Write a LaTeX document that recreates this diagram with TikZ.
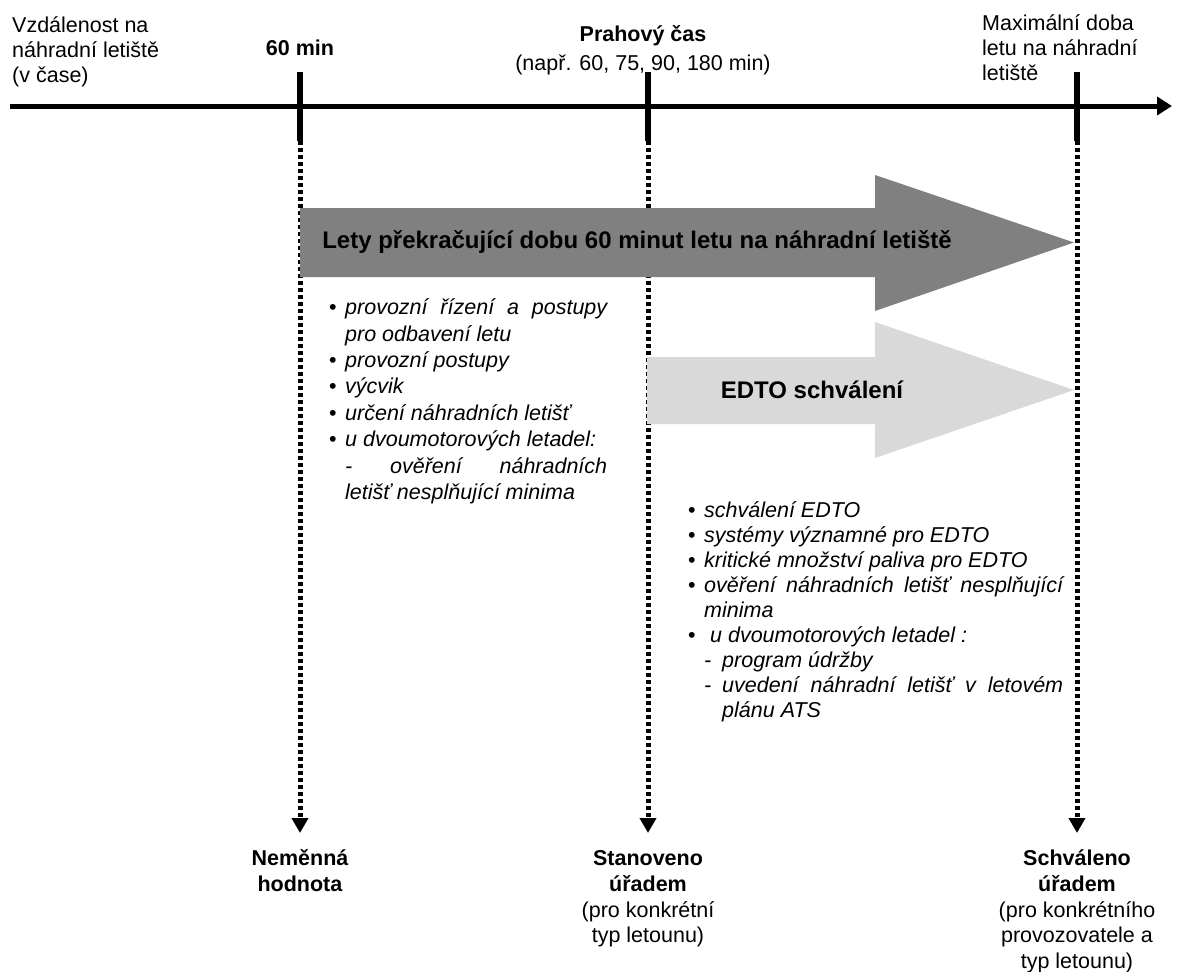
\documentclass[tikz,border=0pt]{standalone}
\usepackage{fontspec}
\setmainfont{Liberation Sans}
\usetikzlibrary{arrows.meta, positioning}

% bullet point and dash point for the lists
\newcommand{\bitem}[1]{\par\noindent\hangindent=16pt\hangafter=1\makebox[16pt][l]{\upshape\textbullet}#1}
\newcommand{\ditem}[1]{\par\noindent\hangindent=34pt\hangafter=1\hspace*{16pt}\makebox[18pt][l]{-}#1}

\begin{document}
\begin{tikzpicture}[x=1pt, y=-1pt]
	% Setup the styles
	\tikzset{toplabel/.style={font=\fontsize{21.5}{25}\selectfont, inner sep=0pt, align=center},
		endlabel/.style={font=\fontsize{21.5}{25.7}\selectfont, inner sep=0pt, align=center},
		arrowtext/.style={font=\fontsize{24}{28}\selectfont\bfseries, inner sep=0pt},
		itemlist/.style={font=\fontsize{21.5}{26.4}\selectfont\itshape, inner sep=0pt, align=justify, anchor=north west},
		timeaxis/.style={line width=5pt, -{Triangle[width=18pt, length=15pt]}},
		tickline/.style={line width=5.5pt},
		guide/.style={line width=5pt, dash pattern=on 4pt off 3pt, -{Triangle[width=16pt, length=15pt]}},
		darkarrow/.style={fill=black!50},
		lightarrow/.style={fill=black!15}}
	
	\useasboundingbox (0,0) rectangle (1179,972);
	
	% time axis and its marks
	\coordinate (start) at (10,106);
	\coordinate (end)   at (1172,106);
	\coordinate (atop) at (300,72);
	\coordinate (a)    at (300,141);
	\coordinate (aend) at (300,833);
	\coordinate (btop) at (648,72);
	\coordinate (b)    at (648,141);
	\coordinate (bend) at (648,833);
	\coordinate (ctop) at (1077,72);
	\coordinate (c)    at (1077,141);
	\coordinate (cend) at (1077,833);
	
	\draw[timeaxis] (start) -- (end);
	\draw[tickline] (atop) -- (a) (btop) -- (b) (ctop) -- (c);
	\draw[guide] (a) -- (aend);
	\draw[guide] (b) -- (bend);
	\draw[guide] (c) -- (cend);
	
	% block arrows
	\fill[darkarrow] (300,208) -- (875,208) -- (875,175) -- (1074,242.5)
		-- (875,311) -- (875,277) -- (300,277) -- cycle;
	\fill[lightarrow] (647,357) -- (875,357) -- (875,322) -- (1074,390)
		-- (875,458) -- (875,424) -- (647,424) -- cycle;
	\node[arrowtext] (lety) at (637,242) {Lety překračující dobu 60 minut letu na náhradní letiště};
	\node[arrowtext] (edto) at (812,390) {EDTO schválení};
	
	% labels above the axis
	\node[toplabel, align=left, anchor=north west] (dist) at (12,16)
		{Vzdálenost na\\náhradní letiště\\(v čase)};
	\node[toplabel, font=\fontsize{21.5}{25}\selectfont\bfseries, above=16.5pt of atop] (min60) {60 min};
	\node[toplabel, anchor=base] (prahnote) at (643,70) {(např. 60, 75, 90, 180 min)};
	\node[toplabel, font=\fontsize{21.5}{25}\selectfont\bfseries, above=8pt of prahnote] (prah) {Prahový čas};
	\node[toplabel, align=left, anchor=north west] (maxdoba) at (982,14)
		{Maximální doba\\letu na náhradní\\letiště};
	
	% lists
	\node[itemlist, text width=278pt] (list60) at (329,288) {%
		\bitem{provozní řízení a postupy\linebreak pro odbavení letu}
		\bitem{provozní postupy}
		\bitem{výcvik}
		\bitem{určení náhradních letišť}
		\bitem{u dvoumotorových letadel:\newline
			- ověření náhradních\linebreak letišť nesplňující minima}\par};
	\node[itemlist, font=\fontsize{21.5}{25}\selectfont\itshape, text width=375pt] (listedto) at (688,492) {%
		\bitem{schválení EDTO}
		\bitem{systémy významné pro EDTO}
		\bitem{kritické množství paliva pro EDTO}
		\bitem{ověření náhradních letišť nesplňující\linebreak minima}
		\bitem{\ u dvoumotorových letadel :}
		\ditem{program údržby}
		\ditem{uvedení náhradní letišť v letovém\linebreak plánu ATS}\par};
	
	% labels below the guides
	\node[endlabel, below=12.5pt of aend] (fixed) {\rule{0pt}{20pt}\textbf{Neměnná}\\\textbf{hodnota}};
	\node[endlabel, below=12.5pt of bend] (state) {\rule{0pt}{20pt}\textbf{Stanoveno}\\\textbf{úřadem}\\(pro konkrétní\\typ letounu)};
	\node[endlabel, below=12.5pt of cend] (approved) {\rule{0pt}{20pt}\textbf{Schváleno}\\\textbf{úřadem}\\(pro konkrétního\\provozovatele a\\typ letounu)};
\end{tikzpicture}
\end{document}
